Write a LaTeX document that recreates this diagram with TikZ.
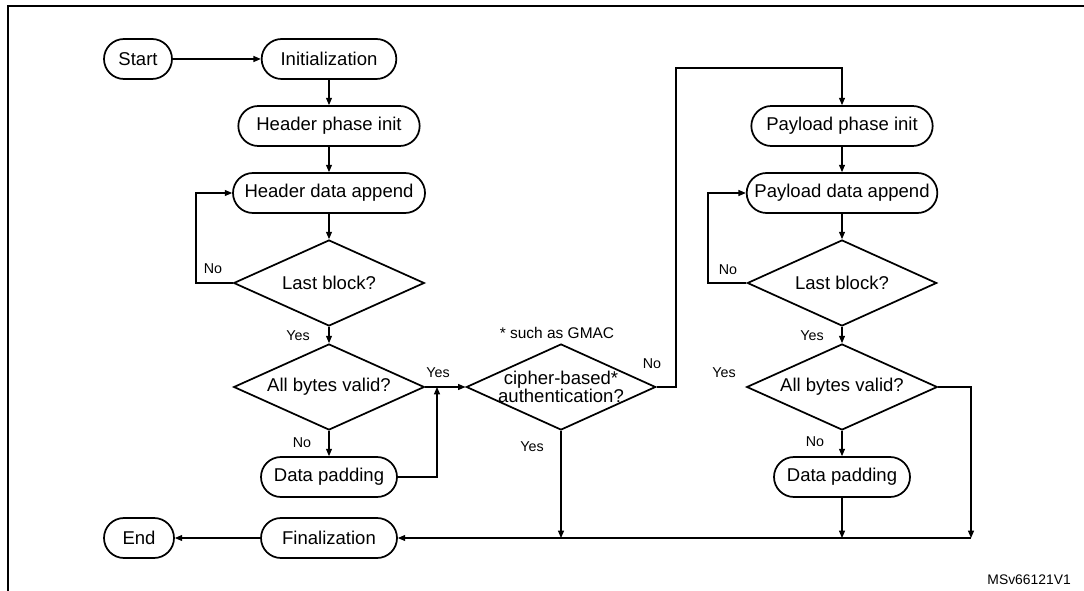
\documentclass[tikz,border=0pt]{standalone}
\usepackage{fontspec}
\setmainfont{Liberation Sans}
\usetikzlibrary{shapes.geometric}
\usetikzlibrary{arrows.meta}

\tikzset{
  term/.style={draw, line width=1.3pt, rectangle, rounded corners=15pt,
    minimum height=30pt, inner sep=0pt, font=\fontsize{13.9pt}{16pt}\selectfont},
  decision/.style={draw, line width=1.3pt, diamond, aspect=2.2, inner sep=0pt,
    minimum width=143pt, minimum height=64.5pt, font=\fontsize{13.9pt}{16pt}\selectfont},
  lbl/.style={font=\fontsize{10.7pt}{12pt}\selectfont, inner sep=0pt},
  flow/.style={->, line width=0.8pt}
}

\begin{document}
\begin{tikzpicture}[x=0.75pt, y=-0.75pt, >={Triangle[length=5.5pt,width=4.5pt]}]
  \useasboundingbox (0,0) rectangle (1084,591);
  \draw [line width=1.6pt] (1084,6) -- (8,6) -- (8,591);
  % header column
  \node [term, minimum width=51pt] (start) at (138,59) {Start};
  \node [term, minimum width=101pt] (init) at (329,59) {Initialization};
  \node [term, minimum width=136pt] (hpi) at (329,126) {Header phase init};
  \node [term, minimum width=144pt] (hda) at (329,193) {Header data append};
  \node [decision] (hlb) at (329,283) {Last block?};
  \node [decision] (hbv) at (329,387) {All bytes valid?};
  \node [term, minimum width=102pt] (hpad) at (329,477) {Data padding};
  \node [term, minimum width=102pt] (fin) at (329,538) {Finalization};
  \node [term, minimum width=52.5pt] (end) at (139,538) {End};
  % middle
  \node [decision, minimum width=142pt,
    label={[align=center, inner sep=0pt, font=\fontsize{13.9pt}{13pt}\selectfont]center:cipher-based*\\authentication?}]
    (cba) at (561,387) {};
  % payload column
  \node [term, minimum width=136pt] (ppi) at (842,126) {Payload phase init};
  \node [term, minimum width=143pt] (pda) at (842,193) {Payload data append};
  \node [decision, minimum width=142pt] (plb) at (842,283) {Last block?};
  \node [decision] (pbv) at (842,387) {All bytes valid?};
  \node [term, minimum width=102pt] (ppad) at (842,477) {Data padding};
  \coordinate (hloop) at (196,283);
  \coordinate (hjoin) at (437,387);
  \coordinate (top) at (676,68);
  \coordinate (ploop) at (708,283);
  \coordinate (rc) at (971,538);
  \draw [flow] (start) -- (init);
  \draw [flow] (init) -- (hpi);
  \draw [flow] (hpi) -- (hda);
  \draw [flow] (hda) -- (hlb);
  \draw [flow] (hlb.west) -- (hloop) |- (hda.west);
  \node [lbl] at (213,269) {No};
  \draw [flow] (hlb.south) -- (hbv.north);
  \node [lbl] at (298,336) {Yes};
  \draw [flow] (hbv.south) -- (hpad.north);
  \node [lbl] at (302,443) {No};
  \draw [flow] (hbv.east) -- (cba.west);
  \node [lbl] at (438,373) {Yes};
  \draw [flow] (hpad.east) -| (hjoin);
  \node [font=\fontsize{11.6pt}{13pt}\selectfont, inner sep=0pt] (gmac) at (557,333) {* such as GMAC};
  \draw [flow] (cba.east) -| (top) -| (ppi.north);
  \node [lbl] at (652,364) {No};
  \draw [flow] (cba.south) -- (cba.south |- fin.east);
  \node [lbl] at (532,447) {Yes};
  \draw [flow] (ppi) -- (pda);
  \draw [flow] (pda) -- (plb);
  \draw [flow] (plb.west) -- (ploop) |- (pda.west);
  \node [lbl] at (728,270) {No};
  \draw [flow] (plb.south) -- (pbv.north);
  \node [lbl] at (812,336) {Yes};
  \node [lbl] at (724,373) {Yes};
  \draw [flow] (pbv.south) -- (ppad.north);
  \node [lbl] at (815,442) {No};
  \draw [flow] (ppad.south) -- (ppad.south |- fin.east);
  \draw [flow] (pbv.east) -| (rc);
  \draw [flow] (rc) -- (fin.east);
  \draw [flow] (fin) -- (end);
  \node [font=\fontsize{10.4pt}{12pt}\selectfont, inner sep=0pt, anchor=east] (ref) at (1071,580) {MSv66121V1};
\end{tikzpicture}
\end{document}
